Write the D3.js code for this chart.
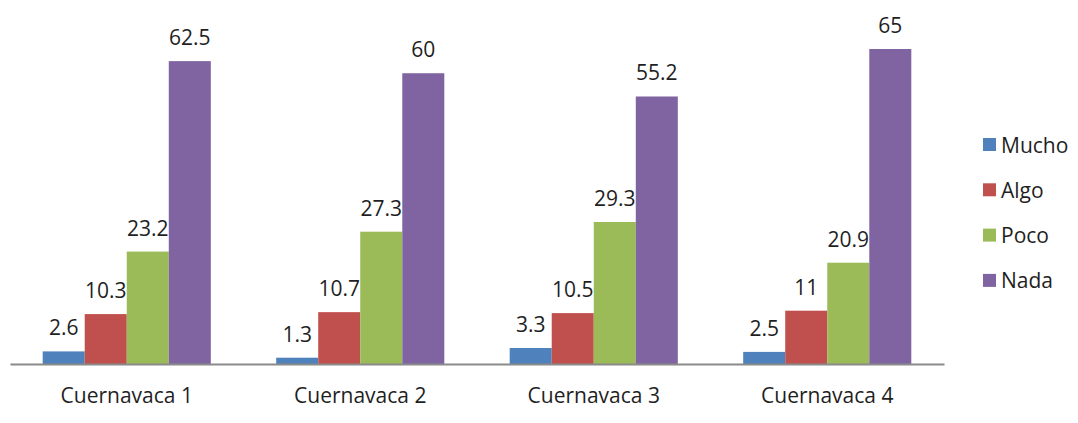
<!DOCTYPE html>
<html>
<head>
<meta charset="utf-8">
<script src="https://cdn.jsdelivr.net/npm/d3@7"></script>
<style>
  html, body { margin: 0; padding: 0; background: #fff; }
  svg text { font-family: "Open Sans", "Liberation Sans", sans-serif; fill: #1f1f1f; }
</style>
</head>
<body>
<svg id="chart" width="1078" height="423"></svg>
<script>
const categories = ["Cuernavaca 1", "Cuernavaca 2", "Cuernavaca 3", "Cuernavaca 4"];
const seriesNames = ["Mucho", "Algo", "Poco", "Nada"];
const mucho = [2.6, 1.3, 3.3, 2.5];
const algo  = [10.3, 10.7, 10.5, 11];
const poco  = [23.2, 27.3, 29.3, 20.9];
const nada  = [62.5, 60, 55.2, 65];
const colors = ["#4F81BD", "#C0504D", "#9BBB59", "#8064A2"];

const seriesValues = [mucho, algo, poco, nada];
const rows = categories.map((c, i) => ({
  category: c,
  values: seriesNames.map((s, j) => ({ series: s, value: seriesValues[j][i], color: colors[j] }))
}));

const svg = d3.select("#chart");
const baseY = 364;

const x0 = d3.scaleBand().domain(categories).range([10, 944])
  .paddingInner(0.28).paddingOuter(0.14);
const x1 = d3.scaleBand().domain(seriesNames).range([0, x0.bandwidth()]);
const y = d3.scaleLinear().domain([0, 65]).range([baseY, baseY - 315]);

const groups = svg.append("g").selectAll("g").data(rows).join("g")
  .attr("transform", d => `translate(${x0(d.category)},0)`);

groups.selectAll("rect").data(d => d.values).join("rect")
  .attr("x", d => x1(d.series))
  .attr("width", x1.bandwidth())
  .attr("y", d => y(d.value))
  .attr("height", d => y(0) - y(d.value))
  .attr("fill", d => d.color);

groups.selectAll("text.val").data(d => d.values).join("text")
  .attr("class", "val")
  .attr("x", d => x1(d.series) + x1.bandwidth() / 2)
  .attr("y", d => y(d.value) - 16)
  .attr("text-anchor", "middle")
  .style("font-size", "21px")
  .text(d => d.value);

// category axis
const xAxis = svg.append("g").attr("transform", `translate(0,${baseY})`)
  .call(d3.axisBottom(x0).tickSize(0).tickPadding(24));
xAxis.select(".domain").attr("stroke", "#8a8a8a").attr("stroke-width", 2);
xAxis.selectAll(".tick text")
  .style("font-size", "21px")
  .style("font-family", '"Open Sans", "Liberation Sans", sans-serif')
  .attr("fill", "#1f1f1f");

// legend
const legend = svg.append("g").selectAll("g").data(seriesNames).join("g")
  .attr("transform", (d, i) => `translate(983,${145 + i * 45.3})`);
legend.append("rect")
  .attr("x", 0).attr("y", -7).attr("width", 13).attr("height", 13)
  .attr("fill", (d, i) => colors[i]);
legend.append("text")
  .attr("x", 18).attr("y", 0).attr("dy", "0.36em")
  .style("font-size", "21px")
  .text(d => d);
</script>
</body>
</html>
